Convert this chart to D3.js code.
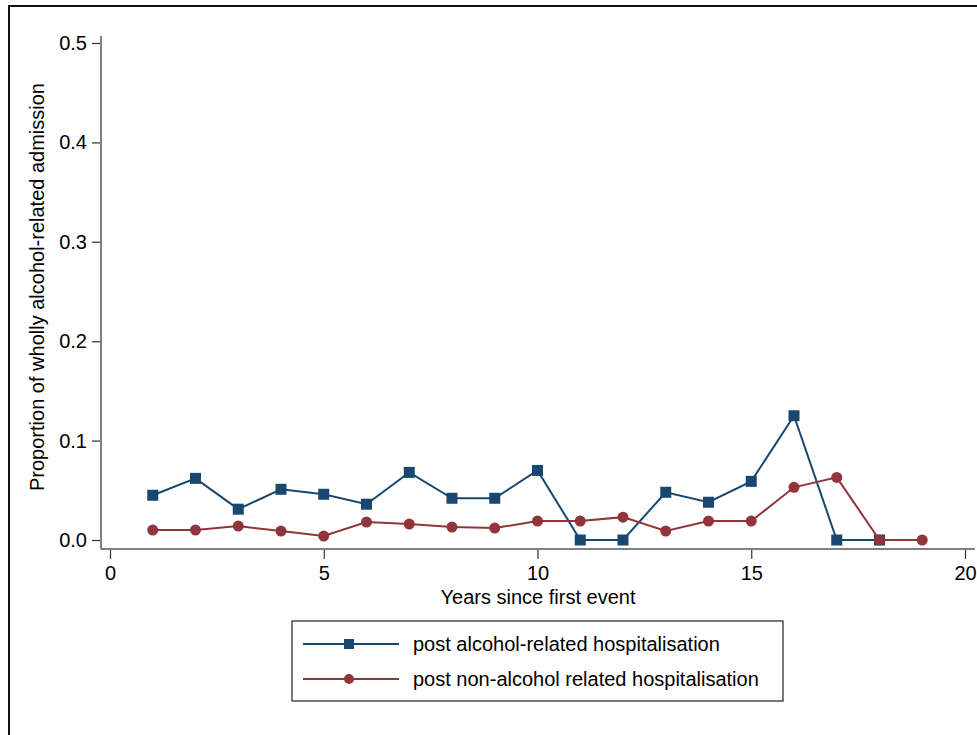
<!DOCTYPE html>
<html>
<head>
<meta charset="utf-8">
<script src="https://cdn.jsdelivr.net/npm/d3@7"></script>
<style>
  body { margin: 0; background: #fff; }
  svg { display: block; font-family: "Liberation Sans", Arial, sans-serif; }
</style>
</head>
<body>
<div class="chart-container"></div>
<script>
// values
const years = [1, 2, 3, 4, 5, 6, 7, 8, 9, 10, 11, 12, 13, 14, 15, 16, 17, 18, 19];
const alcoholRelated = [0.045, 0.062, 0.031, 0.051, 0.046, 0.036, 0.068, 0.042, 0.042, 0.070,
  0, 0, 0.048, 0.038, 0.059, 0.125, 0, 0];
const nonAlcoholRelated = [0.010, 0.010, 0.014, 0.009, 0.004, 0.018, 0.016, 0.013, 0.012, 0.019,
  0.019, 0.023, 0.009, 0.019, 0.019, 0.053, 0.063, 0, 0];
const xTicks = [0, 5, 10, 15, 20];
const yTicks = [0, 0.1, 0.2, 0.3, 0.4, 0.5];
const seriesNames = ['post alcohol-related hospitalisation', 'post non-alcohol related hospitalisation'];

const width = 977, height = 735;
const blue = '#1a476f', red = '#90353b';
const fontSize = '20px';

const svg = d3.select('.chart-container')
  .append('svg')
  .attr('width', width)
  .attr('height', height);

// outer graph frame (cropped at right / bottom)
svg.append('rect')
  .attr('x', 9).attr('y', 6)
  .attr('width', 1000).attr('height', 800)
  .attr('fill', 'none')
  .attr('stroke', '#111')
  .attr('stroke-width', 2);

const x = d3.scaleLinear().domain([0, 20]).range([110, 965]);
const y = d3.scaleLinear().domain([0, 0.5]).range([540, 43]);

// axis lines
svg.append('line')
  .attr('x1', 101).attr('x2', 975).attr('y1', 549).attr('y2', 549)
  .attr('stroke', '#555').attr('stroke-width', 1.5);
svg.append('line')
  .attr('x1', 101).attr('x2', 101).attr('y1', 36).attr('y2', 549)
  .attr('stroke', '#555').attr('stroke-width', 1.5);

const xAxis = svg.append('g')
  .attr('transform', 'translate(0, 550)')
  .call(d3.axisBottom(x).tickValues(xTicks).tickSize(9).tickPadding(7).tickFormat(d3.format('d')));
const yAxis = svg.append('g')
  .attr('transform', 'translate(100, 0)')
  .call(d3.axisLeft(y).tickValues(yTicks).tickSize(8).tickPadding(5).tickFormat(d3.format('.1f')));

[xAxis, yAxis].forEach(g => {
  g.select('.domain').remove();
  g.selectAll('.tick line').attr('stroke', '#333').attr('stroke-width', 1.2);
  g.selectAll('.tick text').attr('fill', '#000').style('font-size', fontSize);
});

// axis titles
svg.append('text')
  .attr('x', 538).attr('y', 604)
  .attr('text-anchor', 'middle')
  .style('font-size', fontSize)
  .text('Years since first event');
svg.append('text')
  .attr('transform', 'translate(44, 287) rotate(-90)')
  .attr('text-anchor', 'middle')
  .style('font-size', fontSize)
  .text('Proportion of wholly alcohol-related admission');

const line = d3.line()
  .x(d => x(d[0]))
  .y(d => y(d[1]));

const blueData = alcoholRelated.map((v, i) => [years[i], v]);
const redData = nonAlcoholRelated.map((v, i) => [years[i], v]);

const sq = 11, r = 5.5;

function drawSeries(data, color, shape) {
  svg.append('path')
    .datum(data)
    .attr('fill', 'none')
    .attr('stroke', color)
    .attr('stroke-width', 2)
    .attr('d', line);
  if (shape === 'square') {
    svg.append('g').selectAll('rect')
      .data(data).join('rect')
      .attr('x', d => x(d[0]) - sq / 2)
      .attr('y', d => y(d[1]) - sq / 2)
      .attr('width', sq).attr('height', sq)
      .attr('fill', color);
  } else {
    svg.append('g').selectAll('circle')
      .data(data).join('circle')
      .attr('cx', d => x(d[0]))
      .attr('cy', d => y(d[1]))
      .attr('r', r)
      .attr('fill', color);
  }
}

drawSeries(blueData, blue, 'square');
drawSeries(redData, red, 'circle');

// legend
const legend = svg.append('g');
legend.append('rect')
  .attr('x', 292).attr('y', 621)
  .attr('width', 491).attr('height', 80)
  .attr('fill', '#fff')
  .attr('stroke', '#222')
  .attr('stroke-width', 1.2);

[[blue, 'square', 644], [red, 'circle', 679]].forEach((s, i) => {
  const [color, shape, ly] = s;
  legend.append('line')
    .attr('x1', 303).attr('x2', 399).attr('y1', ly).attr('y2', ly)
    .attr('stroke', color).attr('stroke-width', 2);
  if (shape === 'square') {
    legend.append('rect')
      .attr('x', 349 - 5).attr('y', ly - 5)
      .attr('width', 10).attr('height', 10)
      .attr('fill', color);
  } else {
    legend.append('circle')
      .attr('cx', 349).attr('cy', ly).attr('r', 5)
      .attr('fill', color);
  }
  legend.append('text')
    .attr('x', 413).attr('y', ly + 7)
    .style('font-size', fontSize)
    .text(seriesNames[i]);
});
</script>
</body>
</html>
